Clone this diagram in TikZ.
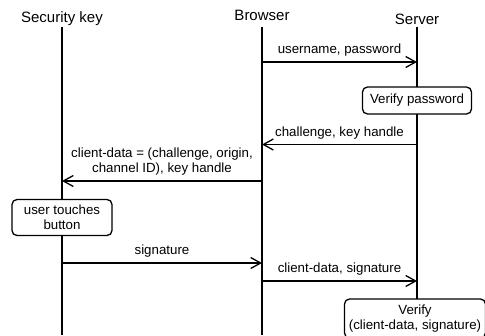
\documentclass[tikz,border=0pt]{standalone}
\usepackage{fontspec}
\setmainfont{Liberation Sans}
\usetikzlibrary{arrows.meta}
\newcommand*{\BodyFont}{\fontsize{13.3pt}{15pt}\selectfont}
\newcommand*{\TitleFont}{\fontsize{15pt}{18pt}\selectfont}
\tikzset{
  party/.style={anchor=base, inner sep=0pt, font=\TitleFont},
  lifeline/.style={line width=1.3pt},
  msg/.style={line width=1.3pt, -{Straight Barb[length=10pt,width=11pt]}},
  lbl/.style={above=5pt, inner sep=0pt, font=\BodyFont, align=center},
  procbox/.style={draw, fill=white, line width=1.3pt, rounded corners=5pt,
    font=\BodyFont, align=center, inner sep=0pt}
}

\begin{document}
\begin{tikzpicture}[x=1pt,y=-1pt]
\useasboundingbox (0,0) rectangle (485,335);

% Parties
\node[party] (seckey) at (62,22) {Security key};
\node[party] (browser) at (262,20.5) {Browser};
\node[party] (server) at (417,24) {Server};

\coordinate (top) at (0,27);
\coordinate (bottom) at (0,335);

% Lifelines
\draw[lifeline] (seckey |- top) -- (seckey |- bottom);
\draw[lifeline] (browser |- top) -- (browser |- bottom);
\draw[lifeline] (server |- top) -- (server |- bottom);

% Processing steps
\node[procbox,
    minimum width=109pt,
    minimum height=27pt
] (verifypw) at (417,100.5) {Verify password};

\node[procbox,
    minimum width=100pt,
    minimum height=36pt
] (touch) at (62,217.5) {user touches\\button};

\node[procbox,
    minimum width=141pt,
    minimum height=39pt
] (verifysig) at (415,318.5) {Verify\\(client-data, signature)};

% Messages
\coordinate (m1) at (0,62);
\coordinate (m2) at (0,144.5);
\coordinate (m3) at (0,181);
\coordinate (m4) at (0,263);
\coordinate (m5) at (0,281);

\draw[msg] (browser |- m1) -- (server |- m1)
    node[midway,lbl]{username, password};
\draw[msg] (server |- m2) -- (browser |- m2)
    node[midway,lbl]{challenge, key handle};
\draw[msg] (browser |- m3) -- (seckey |- m3)
    node[midway,lbl]{client-data = (challenge, origin,\\channel ID), key handle};
\draw[msg] (seckey |- m4) -- (browser |- m4)
    node[midway,lbl]{signature};
\draw[msg] (browser |- m5) -- (server |- m5)
    node[midway,lbl]{client-data, signature};

\end{tikzpicture}
\end{document}
